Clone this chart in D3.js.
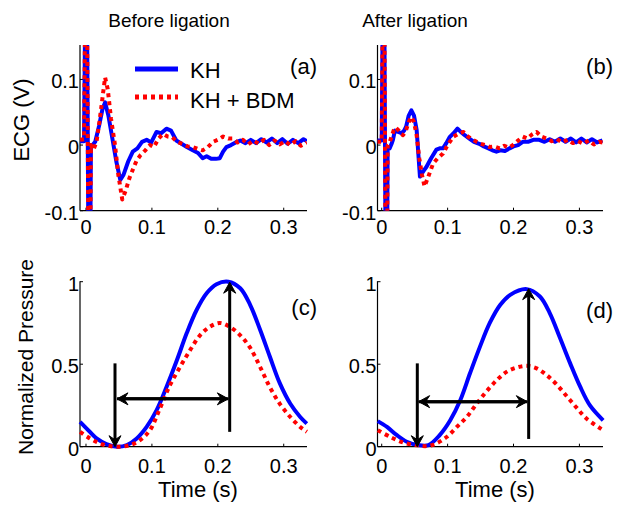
<!DOCTYPE html>
<html><head><meta charset="utf-8">
<script src="https://cdn.jsdelivr.net/npm/d3@7"></script>
<style>
body{margin:0;background:#fff;}
svg{display:block;font-family:"Liberation Sans",Arial,sans-serif;}
</style></head>
<body><svg id="c" width="624" height="512"></svg>
<script>
// ---------- data ----------
const columnTitles = ["Before ligation", "After ligation"];
const seriesNames = ["KH", "KH + BDM"];
const panelLabels = ["(a)", "(b)", "(c)", "(d)"];
const xTicks = [0, 0.1, 0.2, 0.3];
const ecgTicks = [-0.1, 0, 0.1];
const ecgTickLabels = ["-0.1", "0", "0.1"];
const presTicks = [0, 0.5, 1];
const presTickLabels = ["0", "0.5", "1"];

// ECG, before ligation [time s, volts]
const ecgBeforeKH = [[-0.009,0.006],[-0.003,0.006],[0.0005,0.4],[0.005,-0.4],[0.0075,0.0],[0.010,0.0],[0.014,0.005],[0.020,0.03],[0.025,0.055],[0.029,0.065],[0.034,0.045],[0.040,0.01],[0.046,-0.025],[0.052,-0.053],[0.057,-0.045],[0.064,-0.025],[0.071,-0.01],[0.078,-0.005],[0.085,0.005],[0.092,0.008],[0.099,0.004],[0.107,0.02],[0.114,0.018],[0.122,0.025],[0.129,0.022],[0.137,0.007],[0.145,0.002],[0.153,-0.003],[0.162,-0.008],[0.170,-0.012],[0.177,-0.02],[0.183,-0.017],[0.190,-0.021],[0.197,-0.021],[0.203,-0.02],[0.208,-0.01],[0.213,-0.003],[0.220,0.0],[0.227,0.004],[0.234,0.007],[0.242,0.003],[0.250,0.008],[0.258,0.003],[0.266,0.009],[0.274,0.004],[0.282,0.01],[0.290,0.003],[0.298,0.009],[0.306,0.002],[0.314,0.008],[0.322,0.003],[0.330,0.009],[0.335,0.006]];
const ecgBeforeBDM = [[-0.009,0.008],[-0.003,0.009],[0.0005,0.4],[0.005,-0.4],[0.0075,0.0],[0.011,-0.008],[0.016,0.005],[0.021,0.04],[0.026,0.08],[0.029,0.103],[0.033,0.085],[0.038,0.04],[0.044,0.0],[0.049,-0.045],[0.055,-0.083],[0.060,-0.07],[0.066,-0.05],[0.072,-0.035],[0.077,-0.023],[0.083,-0.015],[0.090,-0.008],[0.097,0.0],[0.103,-0.003],[0.110,0.01],[0.117,0.017],[0.124,0.013],[0.131,0.012],[0.138,0.005],[0.146,0.002],[0.154,-0.002],[0.162,-0.003],[0.170,-0.006],[0.177,-0.008],[0.185,-0.003],[0.193,0.005],[0.200,0.008],[0.208,0.013],[0.216,0.01],[0.223,0.01],[0.230,0.004],[0.238,0.008],[0.246,0.001],[0.254,0.007],[0.262,0.002],[0.270,0.008],[0.278,0.0],[0.286,0.007],[0.294,0.001],[0.302,0.006],[0.310,0.0],[0.318,0.006],[0.326,-0.001],[0.335,0.004]];
// ECG, after ligation
const ecgAfterKH = [[-0.007,0.007],[0.0,0.007],[0.003,0.4],[0.007,-0.4],[0.009,-0.005],[0.012,-0.005],[0.015,0.002],[0.017,0.008],[0.020,0.022],[0.025,0.02],[0.030,0.018],[0.034,0.022],[0.037,0.028],[0.041,0.045],[0.045,0.053],[0.049,0.045],[0.053,0.023],[0.058,-0.048],[0.063,-0.04],[0.068,-0.033],[0.075,-0.02],[0.083,-0.007],[0.088,-0.005],[0.093,-0.005],[0.098,0.003],[0.103,0.012],[0.109,0.018],[0.115,0.025],[0.120,0.02],[0.126,0.015],[0.133,0.01],[0.140,0.005],[0.148,0.002],[0.155,-0.002],[0.162,-0.005],[0.168,-0.008],[0.174,-0.01],[0.180,-0.008],[0.187,-0.009],[0.194,-0.005],[0.200,-0.002],[0.207,0.0],[0.214,0.005],[0.222,0.005],[0.230,0.008],[0.239,0.008],[0.247,0.005],[0.255,0.009],[0.263,0.005],[0.271,0.01],[0.279,0.005],[0.287,0.01],[0.295,0.004],[0.303,0.01],[0.311,0.004],[0.319,0.009],[0.327,0.004],[0.335,0.007]];
const ecgAfterBDM = [[-0.007,0.005],[0.0,0.005],[0.003,0.4],[0.007,-0.4],[0.009,0.0],[0.011,0.002],[0.014,0.01],[0.018,0.022],[0.021,0.027],[0.026,0.022],[0.032,0.015],[0.036,0.02],[0.041,0.035],[0.045,0.043],[0.049,0.035],[0.053,0.015],[0.057,-0.02],[0.061,-0.045],[0.065,-0.063],[0.070,-0.05],[0.078,-0.028],[0.085,-0.02],[0.093,-0.013],[0.100,0.0],[0.109,0.013],[0.116,0.017],[0.124,0.02],[0.131,0.013],[0.138,0.008],[0.144,0.005],[0.150,0.002],[0.157,0.0],[0.164,-0.003],[0.171,-0.002],[0.179,-0.005],[0.186,-0.001],[0.193,-0.004],[0.199,0.0],[0.206,0.006],[0.214,0.013],[0.221,0.01],[0.228,0.016],[0.235,0.02],[0.242,0.013],[0.250,0.01],[0.258,0.006],[0.266,0.009],[0.274,0.004],[0.282,0.008],[0.290,0.003],[0.298,0.006],[0.306,0.002],[0.314,0.007],[0.322,0.001],[0.330,0.005],[0.335,0.004]];

// Normalized pressure, before ligation
const presBeforeKH = [[-0.009,0.15],[0.001,0.11],[0.016,0.05],[0.031,0.016],[0.047,0.0],[0.062,0.01],[0.077,0.05],[0.092,0.12],[0.107,0.22],[0.122,0.36],[0.138,0.525],[0.153,0.69],[0.168,0.83],[0.183,0.93],[0.198,0.985],[0.216,1.0],[0.234,0.96],[0.249,0.86],[0.264,0.71],[0.279,0.545],[0.294,0.385],[0.310,0.26],[0.325,0.18],[0.335,0.14]];
const presBeforeBDM = [[-0.009,0.09],[0.006,0.05],[0.021,0.02],[0.036,0.004],[0.052,0.0],[0.067,0.01],[0.082,0.04],[0.097,0.1],[0.112,0.23],[0.127,0.37],[0.143,0.485],[0.158,0.585],[0.173,0.675],[0.188,0.727],[0.203,0.75],[0.218,0.727],[0.234,0.675],[0.249,0.6],[0.264,0.485],[0.279,0.36],[0.294,0.26],[0.310,0.18],[0.325,0.12],[0.335,0.09]];
// Normalized pressure, after ligation
const presAfterKH = [[-0.006,0.155],[0.008,0.12],[0.023,0.07],[0.038,0.03],[0.0555,0.01],[0.071,0.01],[0.088,0.07],[0.104,0.16],[0.119,0.28],[0.134,0.445],[0.149,0.605],[0.164,0.75],[0.180,0.86],[0.195,0.92],[0.220,0.955],[0.240,0.91],[0.255,0.81],[0.270,0.665],[0.286,0.505],[0.301,0.365],[0.316,0.25],[0.336,0.16]];
const presAfterBDM = [[-0.006,0.1],[0.0126,0.06],[0.033,0.025],[0.054,0.008],[0.069,0.004],[0.083,0.02],[0.099,0.06],[0.114,0.12],[0.129,0.18],[0.144,0.26],[0.159,0.335],[0.175,0.405],[0.190,0.455],[0.205,0.48],[0.220,0.49],[0.235,0.475],[0.250,0.435],[0.266,0.375],[0.281,0.305],[0.296,0.235],[0.311,0.17],[0.336,0.1]];

// Arrows: [t1, v1, t2, v2] (arrow head at second point)
const arrowsBefore = [[0.044,0.505,0.044,0.0],[0.216,0.29,0.047,0.29],[0.047,0.29,0.216,0.29],[0.218,0.09,0.218,0.997]];
const arrowsAfter = [[0.054,0.505,0.054,0.0],[0.221,0.273,0.056,0.273],[0.056,0.273,0.221,0.273],[0.223,0.047,0.223,0.958]];

// ---------- drawing ----------
const svg = d3.select("#c");
const BLUE = "#0000ff", RED = "#ff0000";
const FONT_TICK = 20;

const panels = [
  {x0:80, x1:307, xd:[-0.0091,0.3353], y0:210.7, y1:45, yd:[-0.1,0.1525], kind:"ecg", kh:ecgBeforeKH, bdm:ecgBeforeBDM, label:panelLabels[0], lx:317, ly:74, xlabOff:23},
  {x0:377.5, x1:603, xd:[-0.0064,0.3358], y0:210.7, y1:45, yd:[-0.1,0.1525], kind:"ecg", kh:ecgAfterKH, bdm:ecgAfterBDM, label:panelLabels[1], lx:613, ly:74, xlabOff:23},
  {x0:80, x1:307, xd:[-0.0091,0.3353], y0:446.7, y1:281.2, yd:[0,1.003], kind:"pres", kh:presBeforeKH, bdm:presBeforeBDM, arrows:arrowsBefore, label:panelLabels[2], lx:317, ly:315, xlabOff:26},
  {x0:377.5, x1:603, xd:[-0.0064,0.3358], y0:446.7, y1:281.2, yd:[0,1.003], kind:"pres", kh:presAfterKH, bdm:presAfterBDM, arrows:arrowsAfter, label:panelLabels[3], lx:613, ly:318, xlabOff:26}
];

panels.forEach((p, i) => {
  const x = d3.scaleLinear().domain(p.xd).range([p.x0, p.x1]);
  const y = d3.scaleLinear().domain(p.yd).range([p.y0, p.y1]);
  const g = svg.append("g");
  const clipId = "clip" + i;
  svg.append("clipPath").attr("id", clipId).append("rect")
    .attr("x", p.x0).attr("y", p.y1).attr("width", p.x1 - p.x0).attr("height", p.y0 - p.y1);

  // axes lines
  g.append("line").attr("x1", p.x0).attr("x2", p.x0).attr("y1", p.y1).attr("y2", p.y0).attr("stroke", "#000").attr("stroke-width", 1.2);
  g.append("line").attr("x1", p.x0).attr("x2", p.x1).attr("y1", p.y0).attr("y2", p.y0).attr("stroke", "#000").attr("stroke-width", 1.2);

  // x ticks (inward)
  xTicks.forEach(t => {
    g.append("line").attr("x1", x(t)).attr("x2", x(t)).attr("y1", p.y0).attr("y2", p.y0 - 3).attr("stroke", "#000");
    g.append("text").attr("x", x(t)).attr("y", p.y0 + p.xlabOff).attr("text-anchor", "middle")
      .attr("font-size", FONT_TICK).text(String(t));
  });
  // y ticks
  const yt = p.kind === "ecg" ? ecgTicks : presTicks;
  const ytl = p.kind === "ecg" ? ecgTickLabels : presTickLabels;
  yt.forEach((t, k) => {
    g.append("line").attr("x1", p.x0).attr("x2", p.x0 + 3).attr("y1", y(t)).attr("y2", y(t)).attr("stroke", "#000");
    g.append("text").attr("x", p.x0 - 1).attr("y", y(t) + 9).attr("text-anchor", "end")
      .attr("font-size", FONT_TICK).text(ytl[k]);
  });

  const line = d3.line().x(d => x(d[0])).y(d => y(d[1]));
  if (p.kind === "pres") line.curve(d3.curveCatmullRom.alpha(0.5));
  const lg = g.append("g").attr("clip-path", p.kind === "ecg" ? `url(#${clipId})` : null);
  lg.append("path").datum(p.kh).attr("d", line).attr("fill", "none")
    .attr("stroke", BLUE).attr("stroke-width", 4).attr("stroke-linejoin", "round");
  lg.append("path").datum(p.bdm).attr("d", line).attr("fill", "none")
    .attr("stroke", RED).attr("stroke-width", 4).attr("stroke-dasharray", "4,4").attr("stroke-linejoin", "round");

  // arrows
  if (p.arrows) {
    p.arrows.forEach(a => {
      const X1 = x(a[0]), Y1 = y(a[1]), X2 = x(a[2]), Y2 = y(a[3]);
      const ang = Math.atan2(Y2 - Y1, X2 - X1);
      const L = 11, W = 6, notch = 7;
      const bx = X2 - L * Math.cos(ang), by = Y2 - L * Math.sin(ang);
      const nx = X2 - notch * Math.cos(ang), ny = Y2 - notch * Math.sin(ang);
      const px = -Math.sin(ang), py = Math.cos(ang);
      g.append("line").attr("x1", X1).attr("y1", Y1).attr("x2", nx).attr("y2", ny)
        .attr("stroke", "#000").attr("stroke-width", 3);
      g.append("path").attr("d", `M${X2},${Y2}L${bx + W * px},${by + W * py}L${nx},${ny}L${bx - W * px},${by - W * py}Z`)
        .attr("fill", "#000").attr("stroke", "#000").attr("stroke-width", 1);
    });
  }

  // panel label
  g.append("text").attr("x", p.lx).attr("y", p.ly).attr("text-anchor", "end").attr("font-size", 22).text(p.label);
});

// titles
svg.append("text").attr("x", 169).attr("y", 27).attr("text-anchor", "middle").attr("font-size", 19).text(columnTitles[0]);
svg.append("text").attr("x", 415).attr("y", 27).attr("text-anchor", "middle").attr("font-size", 19).text(columnTitles[1]);
// axis titles
svg.append("text").attr("transform", "translate(29,120) rotate(-90)").attr("text-anchor", "middle").attr("font-size", 22).text("ECG (V)");
svg.append("text").attr("transform", "translate(33,357) rotate(-90)").attr("text-anchor", "middle").attr("font-size", 21).text("Normalized Pressure");
svg.append("text").attr("x", 198).attr("y", 497).attr("text-anchor", "middle").attr("font-size", 22).text("Time (s)");
svg.append("text").attr("x", 495).attr("y", 497).attr("text-anchor", "middle").attr("font-size", 22).text("Time (s)");

// legend
const leg = svg.append("g");
leg.append("line").attr("x1", 135).attr("x2", 178).attr("y1", 69).attr("y2", 69).attr("stroke", BLUE).attr("stroke-width", 5);
leg.append("text").attr("x", 190).attr("y", 78).attr("font-size", 22).text(seriesNames[0]);
leg.append("line").attr("x1", 135).attr("x2", 178).attr("y1", 97).attr("y2", 97).attr("stroke", RED).attr("stroke-width", 5).attr("stroke-dasharray", "4,4");
leg.append("text").attr("x", 190).attr("y", 108).attr("font-size", 22).text(seriesNames[1]);
</script></body></html>
